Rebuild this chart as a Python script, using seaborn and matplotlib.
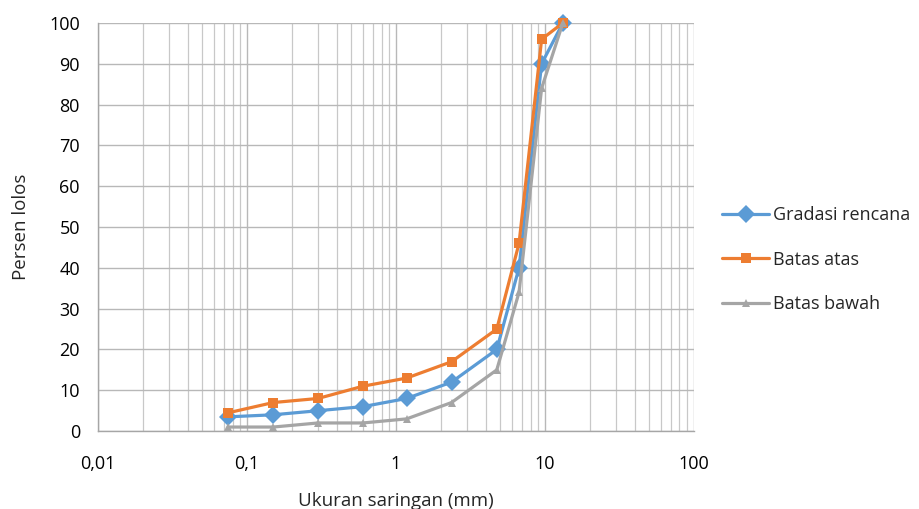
import pandas as pd
import matplotlib.pyplot as plt
import matplotlib.ticker as mticker
import seaborn as sns

# sieve sizes (mm) and percent passing
ukuran = [0.075, 0.15, 0.3, 0.6, 1.18, 2.36, 4.75, 6.7, 9.5, 13.2]
gradasi_rencana = [3.5, 4, 5, 6, 8, 12, 20, 40, 90, 100]
batas_atas = [4.5, 7, 8, 11, 13, 17, 25, 46, 96, 100]
batas_bawah = [1, 1, 2, 2, 3, 7, 15, 34, 84, 100]

series_names = ["Gradasi rencana", "Batas atas", "Batas bawah"]
series_colors = ["#5B9BD5", "#ED7D31", "#A5A5A5"]
series_markers = ["D", "s", "^"]
series_msize = [9, 6.5, 5.5]

x_ticks = [0.01, 0.1, 1, 10, 100]
x_tick_labels = ["0,01", "0,1", "1", "10", "100"]

data = pd.DataFrame({
    "Ukuran": ukuran * 3,
    "Persen": gradasi_rencana + batas_atas + batas_bawah,
    "Seri": [s for s in series_names for _ in ukuran],
})

sns.set_style("white")
plt.rcParams["font.family"] = ["Open Sans", "DejaVu Sans"]

fig = plt.figure(figsize=(9.19, 5.09), dpi=100)
ax = fig.add_axes([0.1066, 0.153, 0.6485, 0.802])

for name, color, mk, ms in zip(series_names, series_colors, series_markers, series_msize):
    sns.lineplot(data=data[data["Seri"] == name], x="Ukuran", y="Persen", ax=ax,
                 color=color, marker=mk, markersize=ms, markeredgewidth=0,
                 linewidth=2.3, label=name, sort=False, zorder=3, clip_on=False)

ax.set_xscale("log")
ax.set_xlim(0.01, 100)
ax.set_ylim(0, 100)
ax.set_yticks(range(0, 101, 10))
ax.set_xticks(x_ticks)
ax.set_xticklabels(x_tick_labels)
ax.xaxis.set_minor_locator(mticker.LogLocator(base=10, subs=range(2, 10)))
ax.xaxis.set_minor_formatter(mticker.NullFormatter())

ax.grid(True, which="major", axis="both", color="#B8B8B8", linewidth=1.0)
ax.grid(True, which="minor", axis="x", color="#C8C8C8", linewidth=0.9)
ax.set_axisbelow(True)

for side in ["top", "right"]:
    ax.spines[side].set_visible(False)
for side in ["left", "bottom"]:
    ax.spines[side].set_color("#A6A6A6")
    ax.spines[side].set_linewidth(1.0)

ax.tick_params(axis="both", which="major", direction="out", length=5, color="#A6A6A6",
               labelcolor="black", labelsize=13, pad=8)
ax.tick_params(axis="x", which="minor", length=0)
ax.tick_params(axis="x", which="major", pad=12)

ax.set_xlabel("Ukuran saringan (mm)", fontsize=13.5, labelpad=14)
ax.set_ylabel("Persen lolos", fontsize=13.5, labelpad=14)

leg = ax.legend(loc="center left", bbox_to_anchor=(1.02, 0.42), frameon=False,
                fontsize=13, handlelength=2.6, labelspacing=1.45, handletextpad=0.2)

plt.savefig("out.png", dpi=100)
